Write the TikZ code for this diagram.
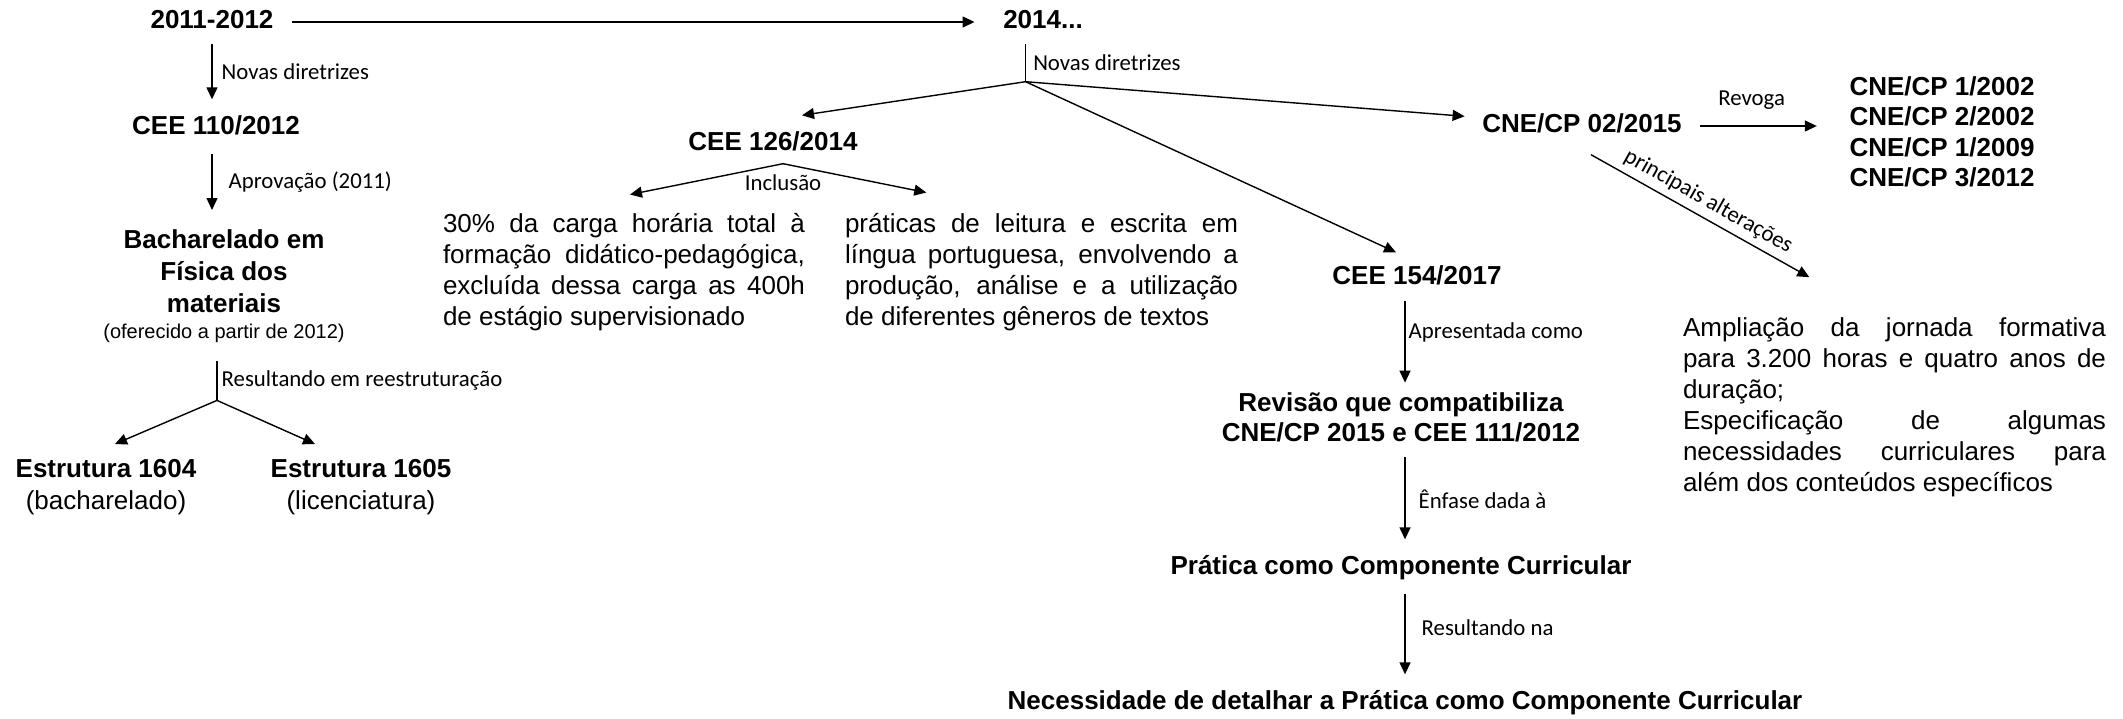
\documentclass[tikz,border=0pt]{standalone}
\usepackage{fontspec}
\setmainfont{Liberation Sans}
\newfontfamily\lblfont{Carlito}
\setlength{\parindent}{0pt}
\hyphenpenalty=10000
\tolerance=10000
\usetikzlibrary{arrows.meta}
\begin{document}
\begin{tikzpicture}[x=0.5pt, y=-0.5pt, line width=0.7pt,
  head/.style={font=\bfseries\fontsize{13}{16}\selectfont, inner sep=0pt, align=center},
  one/.style={head, text height=9.4pt, text depth=2.6pt},
  body/.style={font=\fontsize{13}{15.5}\selectfont, inner sep=0pt, align=justify},
  lbl/.style={font=\lblfont\fontsize{11.4}{13}\selectfont, inner sep=0pt},
  arr/.style={-{Triangle[length=6pt, width=5.5pt]}}]
  \useasboundingbox (0,0) rectangle (2123,718);
  \node[one] (y2011) at (212,22) {2011-2012};
  \node[one] (y2014) at (1043,22) {2014...};
  \node[one] (cee110) at (216,128) {CEE 110/2012};
  \node[head, anchor=north] (bach) at (224,229) {Bacharelado em\\Física dos\\materiais\\[-3pt]{\mdseries\fontsize{10}{12}\selectfont(oferecido a partir de 2012)}};
  \node[head, anchor=north] (e1604) at (106,459) {Estrutura 1604\\\mdseries(bacharelado)};
  \node[head, anchor=north] (e1605) at (361,459) {Estrutura 1605\\\mdseries(licenciatura)};
  \node[one] (cee126) at (773,144) {CEE 126/2014};
  \node[body, text width=181pt] (t30) at (624,272) {30\% da carga horária total à\linebreak formação didático-pedagógica,\linebreak excluída dessa carga as 400h\linebreak de estágio supervisionado};
  \node[body, text width=196.5pt] (tprat) at (1041.5,272) {práticas de leitura e escrita em\linebreak língua portuguesa, envolvendo a\linebreak produção, análise e a utilização\linebreak de diferentes gêneros de textos};
  \node[one] (cee154) at (1417,278) {CEE 154/2017};
  \node[one] (cnecp) at (1582,126) {CNE/CP 02/2015};
  \node[head, font=\bfseries\fontsize{13}{15.2}\selectfont] (revg) at (1942,132) {CNE/CP 1/2002\\CNE/CP 2/2002\\CNE/CP 1/2009\\CNE/CP 3/2012};
  \node[body, text width=211.5pt] (ampl) at (1894.5,407.5) {Ampliação da jornada formativa\linebreak para 3.200 horas e quatro anos de\linebreak duração;\par Especificação de algumas\linebreak necessidades curriculares para\linebreak além dos conteúdos específicos};
  \node[head, font=\bfseries\fontsize{13}{15}\selectfont] (rev) at (1401,417) {Revisão que compatibiliza\\CNE/CP 2015 e CEE 111/2012};
  \node[one] (pcc) at (1401,568) {Prática como Componente Curricular};
  \node[one] (nec) at (1405,703) {Necessidade de detalhar a Prática como Componente Curricular};
  \draw[arr, shorten <=9pt, shorten >=14pt] (y2011.east) -- (y2014.west);
  \draw[arr, shorten <=4.5pt, shorten >=8pt] (y2011.south) -- node[lbl, right=4.5pt, yshift=1.5pt] {Novas diretrizes} (y2011.south |- cee110.north);
  \draw[arr, shorten <=6.5pt, shorten >=9.5pt] (y2011.south |- cee110.south) -- node[lbl, right=8pt, yshift=1.5pt] {Aprovação (2011)} (y2011.south |- bach.north);
  \draw ([xshift=-3.5pt, yshift=-9pt]bach.south) -- node[lbl, right=2pt] {Resultando em reestruturação} ++(0,39) coordinate (b1);
  \draw[arr] (b1) -- ([xshift=4.5pt, yshift=7.5pt]e1604.north);
  \draw[arr] (b1) -- ([xshift=22.5pt, yshift=7.5pt]e1605.north west);
  \draw ([xshift=11.5pt, yshift=-4.5pt]y2014.south west) -- node[lbl, right=3.5pt] {Novas diretrizes} ++(0,38) coordinate (b2);
  \draw[arr] (b2) -- ([xshift=14.5pt, yshift=8pt]cee126.north);
  \draw[arr] (b2) -- ([xshift=-8.5pt, yshift=-1.5pt]cnecp.north west);
  \draw[arr] (b2) -- ([xshift=-10.5pt, yshift=6.5pt]cee154.north);
  \coordinate (b3) at ([xshift=5pt, yshift=-3.5pt]cee126.south);
  \draw[arr] (b3) node[lbl, below=5pt] {Inclusão} -- ([xshift=3pt, yshift=9pt]t30.north);
  \draw[arr] (b3) -- ([xshift=41pt, yshift=10pt]tprat.north west);
  \draw[arr, shorten <=9pt, shorten >=16pt] (cnecp.east) -- node[lbl, above=8pt, xshift=-7pt] {Revoga} (cnecp.east -| revg.west);
  \draw[arr] ([xshift=4.5pt, yshift=-8pt]cnecp.south) -- node[lbl, sloped, above=3pt] {principais alterações} ([xshift=63.5pt, yshift=20pt]ampl.north west);
  \draw[arr, shorten <=5pt, shorten >=4.5pt] (cee154.south -| nec.north) -- node[lbl, right=1.5pt, yshift=4.5pt] {Apresentada como} (rev.north -| nec.north);
  \draw[arr, shorten <=7.5pt, shorten >=8pt] (rev.south -| nec.north) -- node[lbl, right=6.5pt] {Ênfase dada à} (pcc.north -| nec.north);
  \draw[arr, shorten <=6.5pt, shorten >=8pt] (pcc.south -| nec.north) -- node[lbl, right=8pt, yshift=4pt] {Resultando na} (nec.north);
\end{tikzpicture}
\end{document}
